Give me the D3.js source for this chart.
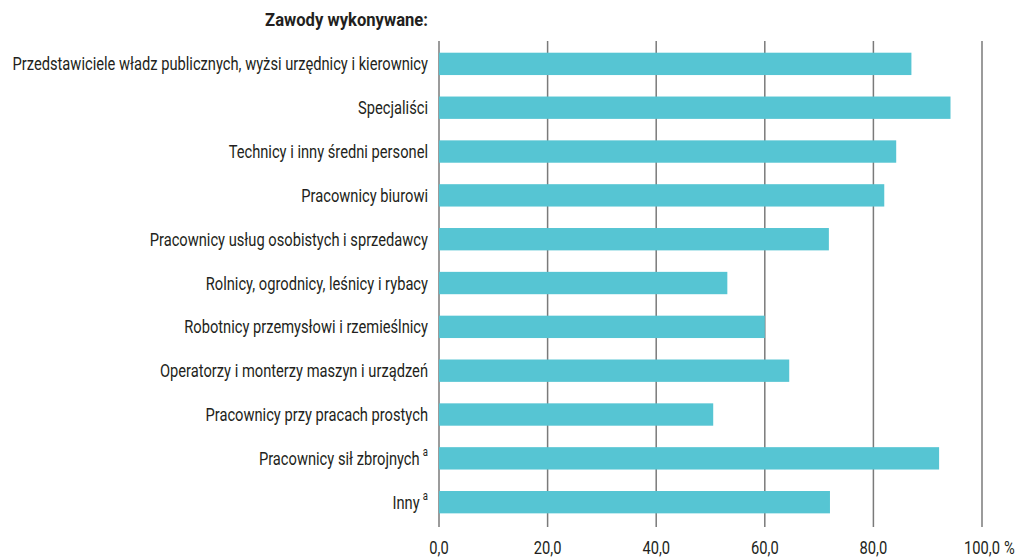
<!DOCTYPE html>
<html><head><meta charset="utf-8">
<script src="https://cdn.jsdelivr.net/npm/d3@7"></script>
<style>body{margin:0;background:#fff}svg{display:block}text{font-family:Roboto,"Liberation Sans",sans-serif;fill:#231f20}</style>
</head><body>
<script>
const categories = [
  "Przedstawiciele władz publicznych, wyżsi urzędnicy i kierownicy",
  "Specjaliści",
  "Technicy i inny średni personel",
  "Pracownicy biurowi",
  "Pracownicy usług osobistych i sprzedawcy",
  "Rolnicy, ogrodnicy, leśnicy i rybacy",
  "Robotnicy przemysłowi i rzemieślnicy",
  "Operatorzy i monterzy maszyn i urządzeń",
  "Pracownicy przy pracach prostych",
  "Pracownicy sił zbrojnych",
  "Inny"
];
const footnotes = ["", "", "", "", "", "", "", "", "", "a", "a"];
const values = [87.0, 94.2, 84.2, 82.0, 71.8, 53.1, 60.0, 64.5, 50.5, 92.1, 72.0];
const tickValues = [0, 20, 40, 60, 80, 100];
const title = "Zawody wykonywane:";

const W = 1017, H = 557;
const FS = 18.5;
const svg = d3.select("body").append("svg").attr("width", W).attr("height", H);
const x = d3.scaleLinear().domain([0, 100]).range([439, 982]);
const step = 43.83;
const y = d3.scaleBand().domain(categories).range([52.7 - step*0.245, 52.7 - step*0.245 + step*categories.length]).paddingInner(0.49).paddingOuter(0.245);

// measure condensing factor
const probe = svg.append("text").attr("font-size", FS).text(categories[0]);
const k = 416 / probe.node().getComputedTextLength();
probe.remove();

// gridlines
svg.append("g").selectAll("line").data(tickValues).join("line")
  .attr("x1", d => x(d)).attr("x2", d => x(d))
  .attr("y1", 41).attr("y2", 527)
  .attr("stroke", "#7a7a7a").attr("stroke-width", 1.5);

// bars
svg.append("g").selectAll("rect").data(values).join("rect")
  .attr("x", x(0)).attr("y", (d, i) => y(categories[i]))
  .attr("width", d => x(d) - x(0)).attr("height", y.bandwidth())
  .attr("fill", "#56c5d3");

// category labels
const lab = svg.append("g").selectAll("g").data(categories).join("g")
  .attr("transform", d => `translate(428,${y(d) + y.bandwidth()/2}) scale(${k},1)`)
  .append("text").attr("dy", "0.35em").attr("text-anchor", "end").attr("font-size", FS);
lab.append("tspan").text(d => d);
lab.filter(d => footnotes[categories.indexOf(d)]).append("tspan")
  .attr("font-size", 12).attr("dy", "-0.7em").attr("dx", 4)
  .text(d => footnotes[categories.indexOf(d)]);

// x tick labels
const fmt = d => d3.format(".1f")(d).replace(".", ",");
const tg = svg.append("g").selectAll("g").data(tickValues).join("g")
  .attr("transform", d => `translate(${x(d)},548) scale(${k},1)`);
tg.append("text").attr("dy", "0.35em").attr("text-anchor", "middle").attr("font-size", FS).text(fmt);
const lastNode = tg.filter(d => d === 100).select("text").node();
const lw = lastNode.getComputedTextLength();
tg.filter(d => d === 100).append("text").attr("x", lw/2 + 5).attr("dy", "0.35em")
  .attr("font-size", FS).text("%");

// title
const tt = svg.append("g");
const ttext = tt.append("text").attr("dy", "0.35em").attr("text-anchor", "end")
  .attr("font-size", FS).attr("font-weight", "bold").text(title);
const kt = 163 / ttext.node().getComputedTextLength();
tt.attr("transform", `translate(428,20) scale(${kt},1)`);
</script>
</body></html>
